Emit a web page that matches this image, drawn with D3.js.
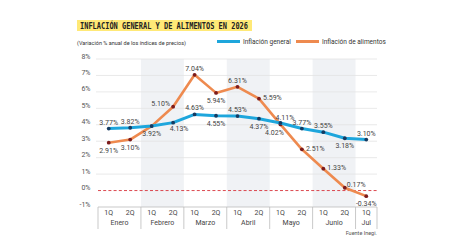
<!DOCTYPE html>
<html>
<head>
<meta charset="utf-8">
<script src="https://cdn.jsdelivr.net/npm/d3@7"></script>
<style>
  body { margin: 0; background: #fff; }
  svg { display: block; }
</style>
</head>
<body>
<div id="chart"></div>
<script>
// Periods (quincenas) and the month each one belongs to
const periodLabels = ["1Q", "2Q", "1Q", "2Q", "1Q", "2Q", "1Q", "2Q", "1Q", "2Q", "1Q", "2Q", "1Q"];
const periodMonths = ["Enero", "Enero", "Febrero", "Febrero", "Marzo", "Marzo", "Abril", "Abril",
                      "Mayo", "Mayo", "Junio", "Junio", "Jul"];
const months = ["Enero", "Febrero", "Marzo", "Abril", "Mayo", "Junio", "Jul"];
const shadedMonths = ["Febrero", "Abril", "Junio"];

// Series values (% anual)
const general = [3.77, 3.82, 3.92, 4.13, 4.63, 4.55, 4.53, 4.37, 4.11, 3.77, 3.55, 3.18, 3.10];
const food = [2.91, 3.10, 3.92, 5.10, 7.04, 5.94, 6.31, 5.59, 4.02, 2.51, 1.33, 0.17, -0.34];

// Where each value label sits relative to its point (null = no label)
const generalLabelPos = ["above", "above", null, "belowRight", "above", "below", "above", "below",
                         "aboveRight", "above", "above", "below", "above"];
const foodLabelPos = ["below", "below", "below", "aboveLeft", "above", "below", "above", "right",
                      "belowLeft", "right", "right", "rightUp", "below"];

const yTicks = [-1, 0, 1, 2, 3, 4, 5, 6, 7, 8];

const width = 449, height = 252;
const plotLeft = 98, plotRight = 377, plotTop = 59, plotBottom = 207;

const blue = "#1ea6dc";
const orange = "#ee8a4f";
const textColor = "#444";
const narrow = "'Liberation Sans Narrow', 'Roboto', sans-serif";

const svg = d3.select("#chart").append("svg")
  .attr("width", width)
  .attr("height", height);

const x = d3.scaleBand()
  .domain(d3.range(periodLabels.length))
  .range([plotLeft, plotRight]);

const y = d3.scaleLinear()
  .domain([-1, 8])
  .range([plotBottom, plotTop]);

const cx = i => x(i) + x.bandwidth() / 2;

// month extents
const monthSpans = months.map(m => {
  const idx = periodMonths.map((pm, i) => pm === m ? i : -1).filter(i => i >= 0);
  return { month: m, x0: x(idx[0]), x1: x(idx[idx.length - 1]) + x.bandwidth() };
});

// Title with highlight
svg.append("rect")
  .attr("x", 77).attr("y", 20)
  .attr("width", 175).attr("height", 11)
  .attr("fill", "#ffe977");

svg.append("text")
  .attr("x", 80).attr("y", 28.7)
  .attr("font-family", "'DejaVu Sans Mono', monospace")
  .attr("font-size", 8)
  .attr("font-weight", "bold")
  .attr("fill", "#222")
  .attr("textLength", 168)
  .attr("lengthAdjust", "spacingAndGlyphs")
  .text("INFLACIÓN GENERAL Y DE ALIMENTOS EN 2026");

svg.append("text")
  .attr("x", 77).attr("y", 44.5)
  .attr("font-family", narrow)
  .attr("font-size", 6.2)
  .attr("fill", "#333")
  .attr("textLength", 109)
  .attr("lengthAdjust", "spacingAndGlyphs")
  .text("(Variación % anual de los índices de precios)");

// Legend
const legend = [
  { label: "Inflación general", color: blue, x: 217 },
  { label: "Inflación de alimentos", color: orange, x: 296 }
];
const lg = svg.append("g").selectAll("g").data(legend).join("g");
lg.append("line")
  .attr("x1", d => d.x).attr("x2", d => d.x + 23)
  .attr("y1", 41.5).attr("y2", 41.5)
  .attr("stroke", d => d.color)
  .attr("stroke-width", 3);
lg.append("text")
  .attr("x", d => d.x + 26).attr("y", 43.8)
  .attr("font-family", narrow)
  .attr("font-size", 6.5)
  .attr("fill", "#333")
  .text(d => d.label);

// Shaded month bands
svg.append("g").selectAll("rect")
  .data(monthSpans.filter(d => shadedMonths.includes(d.month)))
  .join("rect")
  .attr("x", d => d.x0)
  .attr("y", y(8))
  .attr("width", d => d.x1 - d.x0)
  .attr("height", y(-1) - y(8))
  .attr("fill", "#f0f2f5");

// Gridlines
svg.append("g").selectAll("line")
  .data(yTicks.filter(t => t !== 0 && t !== -1))
  .join("line")
  .attr("x1", plotLeft - 2).attr("x2", plotRight)
  .attr("y1", d => y(d)).attr("y2", d => y(d))
  .attr("stroke", "#e3e3e3")
  .attr("stroke-width", 0.8);

// Y tick labels
svg.append("g").selectAll("text")
  .data(yTicks)
  .join("text")
  .attr("x", 90.5)
  .attr("y", d => y(d) - 0.5)
  .attr("text-anchor", "end")
  .attr("font-family", narrow)
  .attr("font-size", 7)
  .attr("fill", "#555")
  .text(d => d + "%");

// Zero reference line
svg.append("line")
  .attr("x1", plotLeft).attr("x2", plotRight)
  .attr("y1", y(0)).attr("y2", y(0))
  .attr("stroke", "#d8343c")
  .attr("stroke-width", 0.9)
  .attr("stroke-dasharray", "3,2.2");

// Bottom axis box
const axisG = svg.append("g");
axisG.append("line")
  .attr("x1", plotLeft).attr("x2", plotRight)
  .attr("y1", plotBottom).attr("y2", plotBottom)
  .attr("stroke", "#bbb").attr("stroke-width", 0.8);

const seps = [plotLeft].concat(monthSpans.map(d => d.x1));
axisG.selectAll("line.sep")
  .data(seps)
  .join("line")
  .attr("class", "sep")
  .attr("x1", d => d).attr("x2", d => d)
  .attr("y1", plotBottom).attr("y2", 229)
  .attr("stroke", "#bbb").attr("stroke-width", 0.8);

axisG.selectAll("text.q")
  .data(periodLabels)
  .join("text")
  .attr("class", "q")
  .attr("x", (d, i) => cx(i))
  .attr("y", 214.5)
  .attr("text-anchor", "middle")
  .attr("font-family", narrow)
  .attr("font-size", 7)
  .attr("fill", textColor)
  .text(d => d);

axisG.selectAll("text.m")
  .data(monthSpans)
  .join("text")
  .attr("class", "m")
  .attr("x", d => (d.x0 + d.x1) / 2)
  .attr("y", 224.5)
  .attr("text-anchor", "middle")
  .attr("font-family", narrow)
  .attr("font-size", 7)
  .attr("fill", textColor)
  .text(d => d.month);

svg.append("text")
  .attr("x", plotRight).attr("y", 235)
  .attr("text-anchor", "end")
  .attr("font-family", narrow)
  .attr("font-size", 5.5)
  .attr("fill", "#555")
  .text("Fuente Inegi.");

// Label placements
const placements = {
  above:      { dx: 0,  dy: -4,   anchor: "middle" },
  below:      { dx: 0,  dy: 10,   anchor: "middle" },
  belowRight: { dx: 6,  dy: 8,    anchor: "middle" },
  belowLeft:  { dx: -6, dy: 10.5, anchor: "middle" },
  aboveRight: { dx: 4.5, dy: -3,  anchor: "middle" },
  aboveLeft:  { dx: -3, dy: -1,   anchor: "end" },
  right:      { dx: 4,  dy: 1.5,  anchor: "start" },
  rightUp:    { dx: 2,  dy: -0.5, anchor: "start" }
};

const line = d3.line()
  .x((d, i) => cx(i))
  .y(d => y(d));

const series = [
  { values: food, color: orange, dot: "#7c1c1c", width: 2.6, pos: foodLabelPos },
  { values: general, color: blue, dot: "#153b62", width: 3, pos: generalLabelPos }
];

series.forEach(s => {
  svg.append("path")
    .datum(s.values)
    .attr("d", line)
    .attr("fill", "none")
    .attr("stroke", s.color)
    .attr("stroke-width", s.width)
    .attr("stroke-linejoin", "round");

  svg.append("g").selectAll("circle")
    .data(s.values)
    .join("circle")
    .attr("cx", (d, i) => cx(i))
    .attr("cy", d => y(d))
    .attr("r", 1.9)
    .attr("fill", s.dot);
});

series.forEach(s => {
  svg.append("g").selectAll("text")
    .data(s.values.map((v, i) => ({ v, i, p: s.pos[i] })).filter(d => d.p))
    .join("text")
    .attr("x", d => cx(d.i) + placements[d.p].dx)
    .attr("y", d => y(d.v) + placements[d.p].dy)
    .attr("text-anchor", d => placements[d.p].anchor)
    .attr("font-family", narrow)
    .attr("font-size", 7)
    .attr("fill", textColor)
    .text(d => d.v.toFixed(2) + "%");
});
</script>
</body>
</html>
